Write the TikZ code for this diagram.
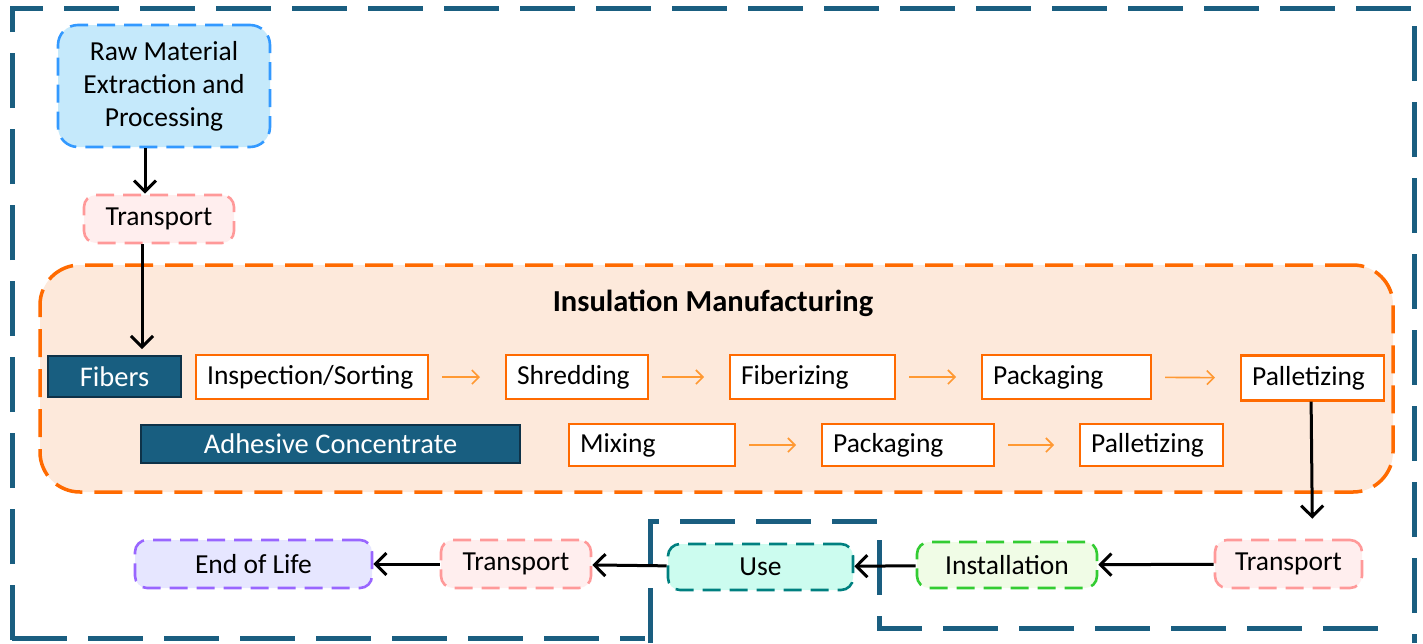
\documentclass[tikz,border=0pt]{standalone}
\usepackage{fontspec}
\setmainfont{Carlito}
\usetikzlibrary{arrows.meta,calc,backgrounds}
\definecolor{frameblue}{RGB}{26,94,128}
\definecolor{fibfill}{RGB}{24,94,128}
\definecolor{fibline}{RGB}{14,50,72}
\definecolor{peach}{RGB}{253,233,219}
\definecolor{orangeline}{RGB}{255,106,0}
\definecolor{orangearrow}{RGB}{255,153,51}
\definecolor{rawfill}{RGB}{197,233,251}
\definecolor{rawline}{RGB}{51,153,255}
\definecolor{trfill}{RGB}{255,238,238}
\definecolor{trline}{RGB}{255,153,153}
\definecolor{instfill}{RGB}{240,252,230}
\definecolor{instline}{RGB}{51,204,51}
\definecolor{usefill}{RGB}{204,252,239}
\definecolor{useline}{RGB}{0,128,128}
\definecolor{eolfill}{RGB}{230,230,255}
\definecolor{eolline}{RGB}{153,102,255}
\tikzset{
    stage/.style = {draw, rounded corners=12pt, line width=2.6pt,
        dash pattern=on 18pt off 9pt, align=center,
        font=\fontsize{27.5}{33}\selectfont},
    procbox/.style = {draw=orangeline, fill=white, line width=2.2pt,
        anchor=west, align=left, inner xsep=11pt,
        minimum height=44pt, font=\fontsize{27.5}{31}\selectfont},
    inbox/.style = {draw=fibline, fill=fibfill, line width=1.8pt,
        text=white, font=\fontsize{28.5}{31}\selectfont},
    arrow/.style = {draw, line width=3pt, -{Straight Barb[length=11pt,width=22pt]}},
    steparrow/.style = {draw=orangearrow, line width=1.6pt,
        -{Straight Barb[length=7pt,width=14pt]},
        shorten <=13pt, shorten >=25pt},
    frame/.style = {draw=frameblue, line width=5pt, dash pattern=on 55pt off 21pt}
}
\begin{document}
\begin{tikzpicture}[x=1pt,y=-1pt]
    \useasboundingbox (0,0) rectangle (1423,643);
    % outer system boundary
    \draw[frame] (12,640) -- (12,8) -- (1414,8) -- (1414,643);
    \draw[frame] (12,638) -- (645,638);
    \draw[frame] (650,643) -- (650,521) -- (877,521);
    \draw[frame] (879,540) -- (879,628) -- (1395,628);

    \node[stage, draw=rawline, fill=rawfill, rounded corners=20pt,
        minimum width=212pt, minimum height=122pt] (raw) at (164,86)
        {Raw Material\\Extraction and\\Processing};
    \node[stage, draw=trline, fill=trfill, minimum width=150pt,
        minimum height=48pt] (tr1) at (159,219) {Transport};

    \node[draw=orangeline, fill=peach, line width=3.5pt, rounded corners=40pt,
        dash pattern=on 28pt off 12pt, minimum width=1353pt,
        minimum height=227pt] (manuf) at (716.5,378.5) {};
    \node[font=\fontsize{30.5}{34}\selectfont\bfseries] (title) at (713,303)
        {Insulation Manufacturing};

    \node[inbox, minimum width=133pt, minimum height=41pt] (fibers)
        at (114.5,376.5) {Fibers};
    \node[procbox, text width=210pt] (insp) at (195,377) {Inspection/Sorting};
    \node[procbox, text width=120pt] (shred) at (505,377) {Shredding};
    \node[procbox, text width=143pt] (fiberize) at (729,377) {Fiberizing};
    \node[procbox, text width=147pt] (packa) at (981,377) {Packaging};
    \node[procbox, text width=121pt, minimum height=45pt] (palla)
        at (1240,378) {Palletizing};

    \node[inbox, minimum width=379pt, minimum height=38pt] (adh)
        at (330.5,444) {Adhesive Concentrate};
    \node[procbox, text width=144pt, minimum height=42pt] (mix) at (568,445) {Mixing};
    \node[procbox, text width=150pt, minimum height=42pt] (packb) at (821,445) {Packaging};
    \node[procbox, text width=121pt, minimum height=42pt] (pallb) at (1079,445) {Palletizing};

    \node[stage, draw=trline, fill=trfill, minimum width=147pt,
        minimum height=48pt] (tr3) at (1288.5,564) {Transport};
    \node[stage, draw=instline, fill=instfill, minimum width=180pt,
        minimum height=46pt] (inst) at (1007,565) {Installation};
    \node[stage, draw=useline, fill=usefill, minimum width=185pt,
        minimum height=46pt] (use) at (760.5,567) {Use};
    \node[stage, draw=trline, fill=trfill, minimum width=150pt,
        minimum height=48pt] (tr2) at (516,564) {Transport};
    \node[stage, draw=eolline, fill=eolfill, minimum width=237pt,
        minimum height=48pt] (eol) at (253.5,564) {End of Life};

    \draw[steparrow] (insp) -- (shred);
    \draw[steparrow] (shred) -- (fiberize);
    \draw[steparrow] (fiberize) -- (packa);
    \draw[steparrow] (packa) -- (palla);
    \draw[steparrow] (mix) -- (packb);
    \draw[steparrow] (packb) -- (pallb);

    \coordinate (tr1out) at ([xshift=-17pt]tr1.south);
    \draw[arrow] ([xshift=-19pt]raw.south) -- ([xshift=-14pt]tr1.north);
    \draw[arrow, shorten >=6pt] (tr1out) -- (tr1out |- fibers.north);
    \draw[arrow, shorten >=20pt] ([xshift=-1.5pt]palla.south) -- ([xshift=24pt]tr3.north);
    \draw[arrow] (tr3) -- (inst);
    \draw[arrow] (inst) -- (use);
    \draw[arrow] (use) -- (tr2);
    \draw[arrow] (tr2) -- (eol);
\end{tikzpicture}
\end{document}
